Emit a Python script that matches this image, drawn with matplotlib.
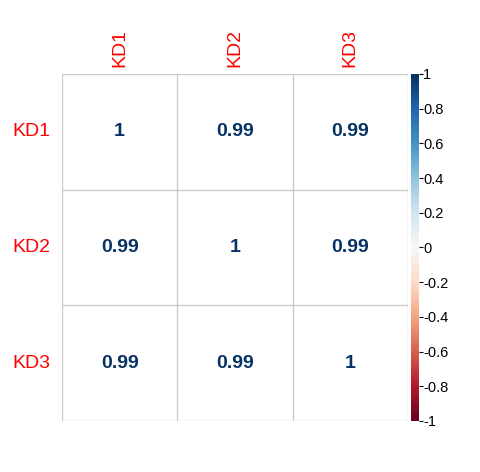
import matplotlib
matplotlib.use("Agg")
import matplotlib.pyplot as plt
import numpy as np
from matplotlib.colors import Normalize
import matplotlib.cm as cm

labels = ["KD1", "KD2", "KD3"]
corr = [[1.00, 0.99, 0.99],
        [0.99, 1.00, 0.99],
        [0.99, 0.99, 1.00]]
cbar_ticks = [-1, -0.8, -0.6, -0.4, -0.2, 0, 0.2, 0.4, 0.6, 0.8, 1]

plt.rcParams['font.family'] = ['Liberation Sans', 'DejaVu Sans']

fig = plt.figure(figsize=(4.8, 4.72), dpi=100)
ax = fig.add_axes([62/480, 1-421/472, 346/480, 347/472])
cmap = plt.get_cmap('RdBu')
norm = Normalize(-1, 1)
n = len(labels)
ax.set_xlim(0, n)
ax.set_ylim(n, 0)
for i in range(n):
    for j in range(n):
        v = corr[i][j]
        txt = f"{v:.2f}".rstrip('0').rstrip('.') if v != 1 else "1"
        ax.text(j + 0.5, i + 0.5, txt, ha='center', va='center',
                color=cmap(norm(v)), fontsize=14, fontweight='bold')
for k in range(n + 1):
    ax.axhline(k, color='#cccccc', lw=1)
    ax.axvline(k, color='#cccccc', lw=1)
for s in ax.spines.values():
    s.set_visible(False)
ax.set_xticks([])
ax.set_yticks([])
for j, lab in enumerate(labels):
    ax.text(j + 0.5, -0.06, lab, rotation=90, ha='center', va='bottom',
            color='red', fontsize=14)
    ax.text(-0.1, j + 0.5, lab, ha='right', va='center',
            color='red', fontsize=14)

cax = fig.add_axes([411/480, 1-421/472, 8/480, 347/472])
cb = fig.colorbar(cm.ScalarMappable(norm=norm, cmap=cmap), cax=cax)
cb.set_ticks(cbar_ticks)
cb.set_ticklabels([f"{t:g}" for t in cbar_ticks])
cb.outline.set_visible(False)
cax.tick_params(length=3, width=0.8, labelsize=10.5, pad=0)

fig.savefig("out.png", dpi=100, facecolor='white')
